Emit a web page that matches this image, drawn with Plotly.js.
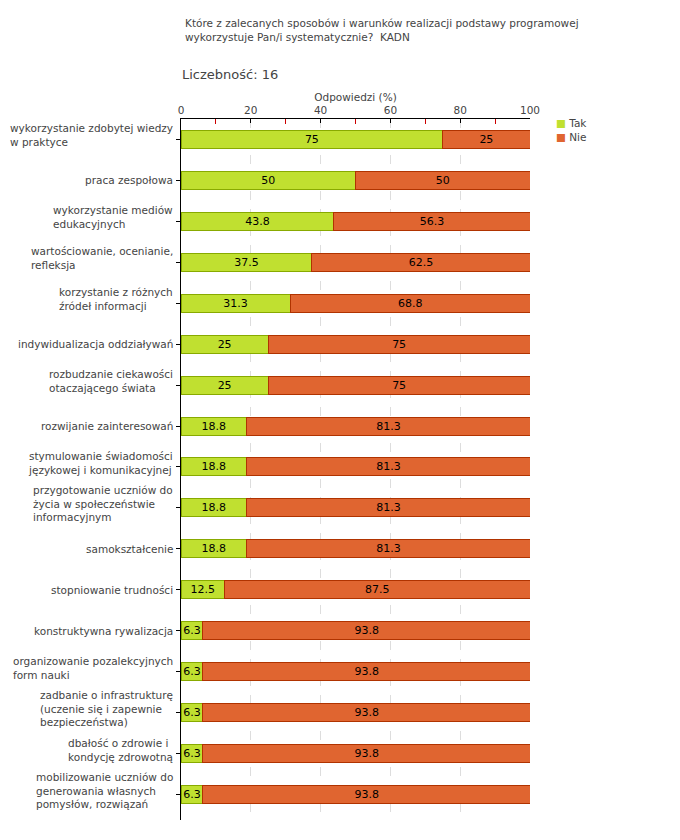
<!DOCTYPE html>
<html><head><meta charset="utf-8">
<script src="https://cdn.plot.ly/plotly-3.0.1.min.js"></script>
<style>html,body{margin:0;padding:0;background:#fff}#c{width:680px;height:840px}</style>
</head><body><div id="c"></div>
<script>
const categories = [
  "wykorzystanie zdobytej wiedzy<br>w praktyce",
  "praca zespołowa",
  "wykorzystanie mediów<br>edukacyjnych",
  "wartościowanie, ocenianie,<br>refleksja",
  "korzystanie z różnych<br>źródeł informacji",
  "indywidualizacja oddziaływań",
  "rozbudzanie ciekawości<br>otaczającego świata",
  "rozwijanie zainteresowań",
  "stymulowanie świadomości<br>językowej i komunikacyjnej",
  "przygotowanie uczniów do<br>życia w społeczeństwie<br>informacyjnym",
  "samokształcenie",
  "stopniowanie trudności",
  "konstruktywna rywalizacja",
  "organizowanie pozalekcyjnych<br>form nauki",
  "zadbanie o infrastrukturę<br>(uczenie się i zapewnie<br>bezpieczeństwa)",
  "dbałość o zdrowie i<br>kondycję zdrowotną",
  "mobilizowanie uczniów do<br>generowania własnych<br>pomysłów, rozwiązań"
];
const tak = [75, 50, 43.8, 37.5, 31.3, 25, 25, 18.8, 18.8, 18.8, 18.8, 12.5, 6.3, 6.3, 6.3, 6.3, 6.3];
const nie = [25, 50, 56.3, 62.5, 68.8, 75, 75, 81.3, 81.3, 81.3, 81.3, 87.5, 93.8, 93.8, 93.8, 93.8, 93.8];
const seriesNames = ["Tak", "Nie"];
const seriesColors = ["#c0e030", "#e06530"];
const seriesLines = ["#88aa00", "#b03300"];

const FONT = "DejaVu Sans, Verdana, sans-serif";
const TXT = "#444";

const traces = [tak, nie].map((vals, i) => ({
  type:'bar', orientation:'h', name:seriesNames[i], y:categories, x:vals, showlegend:false,
  text:vals.map(String), textposition:'inside', insidetextanchor:'middle', constraintext:'none',
  textfont:{color:'#000', size:11, family:FONT},
  marker:{color:seriesColors[i], line:{color:seriesLines[i], width:1}}
}));

const annotations = categories.map(c => {
  const lines = c.split('<br>').length;
  return {xref:'paper', yref:'y', x:0, y:c, xanchor:'right', yanchor:'middle', align:'left',
    xshift:-6, yshift: lines > 1 ? 4 : 0, text:c, showarrow:false,
    font:{family:FONT, size:10.5, color:TXT}};
});
annotations.push({xref:'paper', yref:'paper', x:0.005, y:1.148, xanchor:'left', yanchor:'top', align:'left',
  text:"Które z zalecanych sposobów i warunków realizacji podstawy programowej<br>wykorzystuje Pan/i systematycznie?  KADN",
  showarrow:false, font:{family:FONT, size:10.5, color:TXT}});
annotations.push({xref:'paper', yref:'paper', x:-0.003, y:1.063, xanchor:'left', yanchor:'middle', align:'left',
  text:"Liczebność: 16", showarrow:false, font:{family:FONT, size:13, color:TXT}});
// legend entries
seriesNames.forEach((n, i) => {
  annotations.push({xref:'paper', yref:'paper', x:1.07, y:0.995 - i*0.02, xanchor:'left', yanchor:'middle',
    align:'left', showarrow:false,
    text:"<span style='color:" + seriesColors[i] + "'>■</span> " + n,
    font:{family:FONT, size:10.5, color:TXT}});
});

const layout = {
  width:680, height:840,
  margin:{l:181, r:150, t:119, b:20},
  paper_bgcolor:'#fff', plot_bgcolor:'#fff',
  barmode:'stack', bargap:0.56,
  font:{family:FONT, size:10, color:TXT},
  showlegend:false,
  xaxis:{side:'top', range:[0,100], tickmode:'linear', tick0:0, dtick:20,
         ticks:'inside', ticklen:4, tickcolor:'#000', showline:true, linecolor:'#000', linewidth:1,
         showgrid:true, gridcolor:'#dddddd', griddash:'dash', zeroline:false,
         tickfont:{family:FONT, size:10.5, color:TXT},
         minor:{dtick:10, tick0:0, ticks:'inside', ticklen:5, tickwidth:1, tickcolor:'#cc0000', showgrid:false},
         title:{text:"Odpowiedzi (%)", standoff:0, font:{family:FONT, size:10.5, color:TXT}}},
  yaxis:{type:'category', autorange:'reversed', showticklabels:false, ticks:'outside', ticklen:4,
         tickcolor:'#000', showline:true, linecolor:'#000', linewidth:1, showgrid:false, zeroline:false},
  annotations:annotations
};
Plotly.newPlot('c', traces, layout, {staticPlot:true, displayModeBar:false});
</script></body></html>
